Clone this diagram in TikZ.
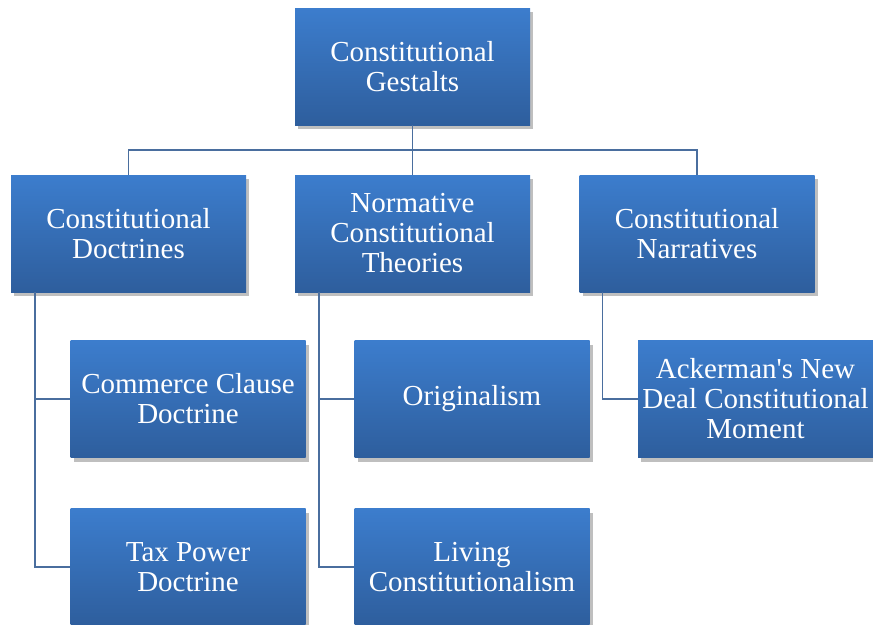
\documentclass[tikz,border=0pt]{standalone}
\usepackage{fontspec}
\newfontfamily\boxfont{Liberation Serif}
\usetikzlibrary{shadows}
\definecolor{boxtop}{HTML}{3C7DCD}
\definecolor{boxbot}{HTML}{2E5E9D}
\definecolor{linkblue}{HTML}{4A6E9E}
\begin{document}
\begin{tikzpicture}[x=1pt,y=-1pt,
    topicbox/.style={rectangle,minimum width=235pt,minimum height=117pt,inner sep=0pt,
      align=center,text=white,font=\boxfont\fontsize{29}{30}\selectfont,
      top color=boxtop,bottom color=boxbot,draw=none,
      drop shadow={shadow xshift=3pt,shadow yshift=-4pt,fill=black,opacity=0.25}},
    link/.style={draw=linkblue,line width=1.6pt}]
      \path[use as bounding box,clip] (0,0) rectangle (873,624);

      % top level
      \node[topicbox] (gestalt) at (412.5,66.5) {Constitutional\\Gestalts};

      % second level
      \node[topicbox] (doctr) at (128.5,233.5) {Constitutional\\Doctrines};
      \node[topicbox] (normat) at (412.5,233.5) {Normative\\Constitutional\\Theories};
      \node[topicbox] (narrat) at (697,233.5) {Constitutional\\Narratives};

      % third level
      \node[topicbox] (commerce) at (188,399) {Commerce Clause\\Doctrine};
      \node[topicbox] (origin) at (472,399) {\strut Originalism};
      \node[topicbox] (acker) at (755.5,399) {Ackerman's New\\Deal Constitutional\\Moment};

      % fourth level
      \node[topicbox] (tax) at (188,567) {Tax Power\\Doctrine};
      \node[topicbox] (living) at (472,567) {Living\\Constitutionalism};

      % connectors
      \draw[link] (gestalt.south) -- (normat.north);
      \draw[link] (gestalt.south) -- ++(0,25) -| (doctr.north);
      \draw[link] (gestalt.south) -- ++(0,25) -| (narrat.north);

      \draw[link] ([xshift=24pt]doctr.south west) |- (commerce.west);
      \draw[link] ([xshift=24pt]doctr.south west) |- (tax.west);
      \draw[link] ([xshift=24pt]normat.south west) |- (origin.west);
      \draw[link] ([xshift=24pt]normat.south west) |- (living.west);
      \draw[link] ([xshift=23pt]narrat.south west) |- (acker.west);

\end{tikzpicture}
\end{document}
